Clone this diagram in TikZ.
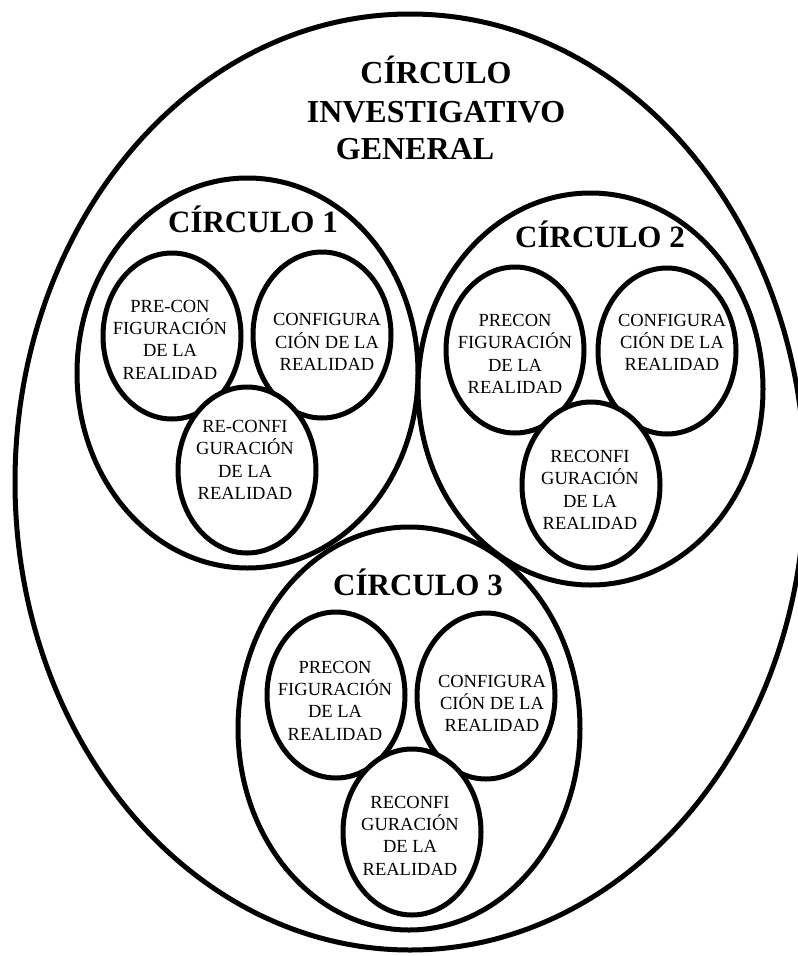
\documentclass[tikz,border=0pt]{standalone}
\usepackage{fontspec}
\setmainfont{Liberation Serif}
\usetikzlibrary{shapes.geometric}
\begin{document}
\begin{tikzpicture}[x=1pt,y=-1pt,
  oval/.style={shape=ellipse,draw=black,fill=white,line width=5pt,inner sep=0pt},
  big/.style={oval},
  small/.style={oval,minimum width=138pt,minimum height=166pt},
  ttl/.style={font=\fontsize{32}{38}\selectfont\bfseries,inner sep=0pt,anchor=base},
  clab/.style={font=\fontsize{31}{36}\selectfont\bfseries,inner sep=0pt,anchor=base},
  itxt/.style={font=\fontsize{18.5}{22.3}\selectfont,align=center,inner sep=0pt}]
\useasboundingbox (0,0) rectangle (798,956);
% big ellipses
\node[big,minimum width=790pt,minimum height=936pt] (outer) at (410,482) {};
\node[big,minimum width=341pt,minimum height=390pt] (c1) at (247.5,373) {};
\node[big,minimum width=345pt,minimum height=392pt] (c2) at (590.5,389) {};
\node[big,minimum width=342pt,minimum height=403pt] (c3) at (409,728.5) {};
% title
\node[ttl] (t1) at (436,83.5) {CÍRCULO};
\node[ttl] (t2) at (436,122.5) {INVESTIGATIVO};
\node[ttl] (t3) at (415,159.5) {GENERAL};
% circle labels
\node[clab] (l1) at (253,232) {CÍRCULO 1};
\node[clab] (l2) at (600,247) {CÍRCULO 2};
\node[clab] (l3) at (418,595) {CÍRCULO 3};
% circle 1
\node[small] (c1p) at (172,336) {};
\node[small] (c1c) at (322,335) {};
\node[small] (c1r) at (247,470) {};
% circle 2
\node[small] (c2p) at (515,350) {};
\node[small] (c2c) at (667,351) {};
\node[small] (c2r) at (591,485) {};
% circle 3
\node[small] (c3p) at (336,695) {};
\node[small] (c3c) at (486,696) {};
\node[small] (c3r) at (412,832) {};
% texts
\node[itxt] (c1pt) at (170,339.5) {PRE-CON\\FIGURACIÓN\\DE LA\\REALIDAD};
\node[itxt] (c1ct) at (327,342) {CONFIGURA\\CIÓN DE LA\\REALIDAD};
\node[itxt] (c1rt) at (245,460) {RE-CONFI\\GURACIÓN\\DE LA\\REALIDAD};
\node[itxt] (c2pt) at (515,354) {PRECON\\FIGURACIÓN\\DE LA\\REALIDAD};
\node[itxt] (c2ct) at (672,342.5) {CONFIGURA\\CIÓN DE LA\\REALIDAD};
\node[itxt] (c2rt) at (590,490) {RECONFI\\GURACIÓN\\DE LA\\REALIDAD};
\node[itxt] (c3pt) at (335,700.5) {PRECON\\FIGURACIÓN\\DE LA\\REALIDAD};
\node[itxt] (c3ct) at (492,703.5) {CONFIGURA\\CIÓN DE LA\\REALIDAD};
\node[itxt] (c3rt) at (410,835.5) {RECONFI\\GURACIÓN\\DE LA\\REALIDAD};
\end{tikzpicture}
\end{document}
